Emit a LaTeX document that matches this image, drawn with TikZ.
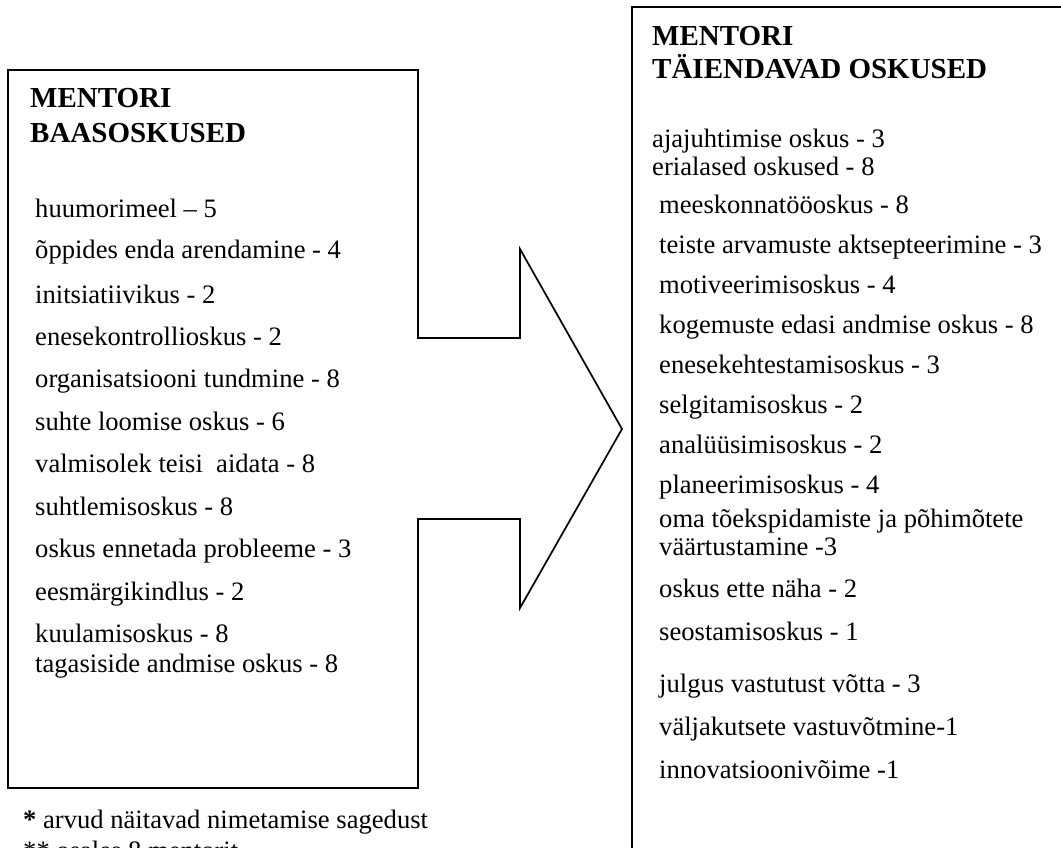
\documentclass[tikz,border=0pt]{standalone}
\usepackage{fontspec}
\setmainfont{Liberation Serif}
\begin{document}
\begin{tikzpicture}[x=1pt,y=-1pt,
  frame/.style={line width=1.7pt,line join=miter},
  head/.style={anchor=base west,inner sep=0pt,font=\fontsize{29}{33}\selectfont\bfseries},
  item/.style={anchor=base west,inner sep=0pt,font=\fontsize{26.6}{30}\selectfont},
  note/.style={anchor=base west,inner sep=0pt,font=\fontsize{26.6}{30}\selectfont}]
\useasboundingbox (0,0) rectangle (1061,847);
\fill[white] (0,0) rectangle (1061,847);

% left frame merged with the block arrow
\draw[frame] (418,338) -- (418,70) -- (8,70) -- (8,788) -- (418,788) -- (418,519)
  -- (520,519) -- (520,608) -- (622,429) -- (520,249) -- (520,338) -- cycle;
% right frame, running off the page
\draw[frame] (1075,7) -- (632,7) -- (632,860);

% left column
\node[head] (lh1) at (30,107) {MENTORI};
\node[head] (lh2) at (30,142) {BAASOSKUSED};
\node[item] (l1) at (35,217) {huumorimeel – 5};
\node[item] (l2) at (35,258) {õppides enda arendamine - 4};
\node[item] (l3) at (35,303) {initsiatiivikus - 2};
\node[item] (l4) at (35,345) {enesekontrollioskus - 2};
\node[item] (l5) at (35,387) {organisatsiooni tundmine - 8};
\node[item] (l6) at (35,430) {suhte loomise oskus - 6};
\node[item] (l7) at (35,472) {valmisolek teisi\ \ aidata - 8};
\node[item] (l8) at (35,515) {suhtlemisoskus - 8};
\node[item] (l9) at (35,557) {oskus ennetada probleeme - 3};
\node[item] (l10) at (35,600) {eesmärgikindlus - 2};
\node[item] (l11) at (35,642) {kuulamisoskus - 8};
\node[item] (l12) at (35,672) {tagasiside andmise oskus - 8};

% notes under the left frame
\node[note] (n1) at (23,828) {\textbf{*} arvud näitavad nimetamise sagedust};
\node[note] (n2) at (23,859) {** osales 8 mentorit};

% right column
\node[head] (rh1) at (652,45) {MENTORI};
\node[head] (rh2) at (652,78) {TÄIENDAVAD OSKUSED};
\node[item] (r1) at (652,147) {ajajuhtimise oskus - 3};
\node[item] (r2) at (652,175) {erialased oskused - 8};
\node[item] (r3) at (659,213) {meeskonnatööoskus - 8};
\node[item] (r4) at (659,253) {teiste arvamuste aktsepteerimine - 3};
\node[item] (r5) at (659,293) {motiveerimisoskus - 4};
\node[item] (r6) at (659,333) {kogemuste edasi andmise oskus - 8};
\node[item] (r7) at (659,373) {enesekehtestamisoskus - 3};
\node[item] (r8) at (659,413) {selgitamisoskus - 2};
\node[item] (r9) at (659,453) {analüüsimisoskus - 2};
\node[item] (r10) at (659,493) {planeerimisoskus - 4};
\node[item] (r11) at (659,527) {oma tõekspidamiste ja põhimõtete};
\node[item] (r12) at (659,555) {väärtustamine -3};
\node[item] (r13) at (659,597) {oskus ette näha - 2};
\node[item] (r14) at (659,640) {seostamisoskus - 1};
\node[item] (r15) at (659,692) {julgus vastutust võtta - 3};
\node[item] (r16) at (659,735) {väljakutsete vastuvõtmine-1};
\node[item] (r17) at (659,778) {innovatsioonivõime -1};
\end{tikzpicture}
\end{document}
